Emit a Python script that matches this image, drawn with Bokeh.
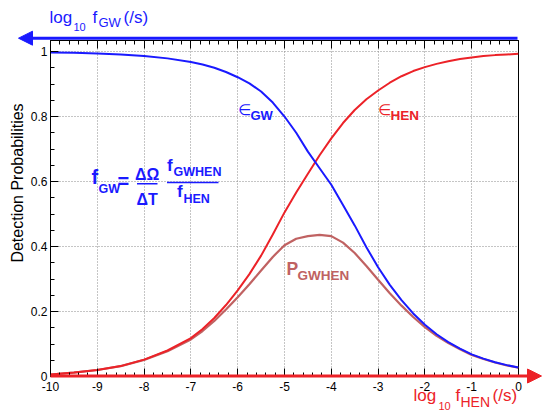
import numpy as np
from bokeh.plotting import figure
from bokeh.layouts import column
from bokeh.models import Label, Arrow, NormalHead, LinearAxis, Range1d, FixedTicker, Grid
from bokeh.embed import file_html
from bokeh.resources import INLINE

# ---- data ----
log_f = [-10, -9.5, -9, -8.5, -8, -7.5, -7, -6.75, -6.5, -6.25, -6, -5.75, -5.5,
         -5.25, -5, -4.75, -4.5, -4.25, -4, -3.75, -3.5, -3.25, -3, -2.75, -2.5,
         -2.25, -2, -1.75, -1.5, -1.25, -1, -0.75, -0.5, -0.25, 0]
eps_gw = [0.997, 0.996, 0.994, 0.991, 0.986, 0.979, 0.968, 0.960, 0.950, 0.937,
          0.921, 0.902, 0.877, 0.843, 0.800, 0.750, 0.692, 0.641, 0.590, 0.528,
          0.465, 0.398, 0.336, 0.282, 0.235, 0.194, 0.159, 0.130, 0.106, 0.086,
          0.068, 0.055, 0.044, 0.035, 0.028]
eps_hen = [0.006, 0.012, 0.020, 0.032, 0.052, 0.080, 0.118, 0.146, 0.180, 0.220,
           0.265, 0.315, 0.372, 0.437, 0.505, 0.566, 0.624, 0.681, 0.733, 0.780,
           0.820, 0.853, 0.880, 0.904, 0.924, 0.940, 0.952, 0.962, 0.970, 0.977,
           0.982, 0.986, 0.989, 0.991, 0.993]
p_gwhen = [0.006, 0.012, 0.020, 0.032, 0.051, 0.078, 0.114, 0.140, 0.171, 0.206,
           0.244, 0.284, 0.326, 0.368, 0.404, 0.424, 0.432, 0.436, 0.432, 0.412,
           0.380, 0.340, 0.298, 0.256, 0.218, 0.183, 0.152, 0.125, 0.103, 0.084,
           0.066, 0.054, 0.043, 0.034, 0.027]
x_ticks = [-10, -9, -8, -7, -6, -5, -4, -3, -2, -1, 0]
x_tick_labels = ["-10", "-9", "-8", "-7", "-6", "-5", "-4", "-3", "-2", "-1", "0"]
y_ticks = [0, 0.2, 0.4, 0.6, 0.8, 1]
y_tick_labels = ["0", "0.2", "0.4", "0.6", "0.8", "1"]

BLUE = "#1a1aff"
RED = "#ec2228"
PCOL = "#c06262"
FONT = "Liberation Sans"

W, H = 543, 415
p = figure(width=W, height=H, output_backend="svg", toolbar_location=None,
           x_range=Range1d(-10, 0), y_range=Range1d(0, 1.034),
           min_border_left=50, min_border_right=25, min_border_top=40,
           min_border_bottom=39, x_axis_type=None, y_axis_type=None,
           frame_align=False)
p.outline_line_color = "black"
p.outline_line_width = 1
p.background_fill_color = "white"
p.border_fill_color = "white"

xt = FixedTicker(ticks=x_ticks, minor_ticks=list(np.round(np.arange(-10, 0.001, 0.2), 3)))
yt = FixedTicker(ticks=y_ticks, minor_ticks=list(np.round(np.arange(0, 1.03, 0.05), 3)))

def style_axis(ax):
    ax.major_tick_in = 8
    ax.major_tick_out = 0
    ax.minor_tick_in = 4
    ax.minor_tick_out = 0
    ax.major_tick_line_color = "black"
    ax.minor_tick_line_color = "black"
    ax.axis_line_color = "black"
    ax.major_label_text_font = FONT
    ax.major_label_text_font_size = "12px"
    ax.major_label_text_color = "black"

xb = LinearAxis(ticker=xt)
style_axis(xb)
xb.major_label_overrides = {t: l for t, l in zip(x_ticks, x_tick_labels)}
xb.major_label_standoff = 5
p.add_layout(xb, "below")

xa = LinearAxis(ticker=xt)
style_axis(xa)
xa.major_label_text_alpha = 0
xa.major_label_text_font_size = "1px"
xa.major_label_standoff = 0
p.add_layout(xa, "above")

yl = LinearAxis(ticker=yt)
style_axis(yl)
yl.major_label_overrides = {t: l for t, l in zip(y_ticks, y_tick_labels)}
yl.major_label_standoff = 3
p.add_layout(yl, "left")

p.add_layout(Grid(dimension=0, ticker=xt, grid_line_color="#8a8a8a",
                  grid_line_dash="1 2", grid_line_width=1))
p.add_layout(Grid(dimension=1, ticker=yt, grid_line_color="#8a8a8a",
                  grid_line_dash="1 2", grid_line_width=1))

# curves
p.line(log_f, p_gwhen, line_color=PCOL, line_width=2.2)
p.line(log_f, eps_hen, line_color=RED, line_width=2)
p.line(log_f, eps_gw, line_color=BLUE, line_width=2)

# ---- transparent overlay canvas (pixel coordinates) for titles & annotations ----
q = figure(width=W, height=H, output_backend="svg", toolbar_location=None,
           x_range=Range1d(0, W), y_range=Range1d(H, 0),
           min_border=0, x_axis_type=None, y_axis_type=None,
           margin=(-H, 0, 0, 0), frame_align=False)
q.xgrid.visible = False
q.ygrid.visible = False
q.outline_line_color = None
q.background_fill_color = None
q.border_fill_color = None
q.background_fill_alpha = 0
q.border_fill_alpha = 0

K = 0.41  # baseline correction for Label rendering

def lab(text, x, y, size, color, bold=False, font=FONT, align="left", angle=0):
    if angle == 0:
        y = y - K * size
    else:
        x = x - K * size
    q.add_layout(Label(x=x, y=y, text=text, text_font=font,
                       text_font_size=f"{size}px", text_color=color,
                       text_font_style="bold" if bold else "normal",
                       text_align=align, text_baseline="alphabetic", angle=angle))

def bar(x0, x1, y, color, w=1.5):
    q.add_layout(Arrow(x_start=x0, y_start=y, x_end=x1, y_end=y, end=None,
                       line_color=color, line_width=w))

# axis arrows
q.add_layout(Arrow(x_start=517, y_start=37.7, x_end=18, y_end=37.7,
                   line_color=BLUE, line_width=3,
                   end=NormalHead(size=14, fill_color=BLUE, line_color=BLUE)))
q.add_layout(Arrow(x_start=50, y_start=375.5, x_end=541, y_end=375.5,
                   line_color=RED, line_width=3,
                   end=NormalHead(size=14, fill_color=RED, line_color=RED)))

# axis titles
lab("log", 49, 24, 17, BLUE)
lab("10", 73, 31.5, 11, BLUE)
lab("f", 92, 24, 17, BLUE)
lab("GW", 98, 27, 13, BLUE)
lab("(/s)", 123, 24, 17, BLUE)

lab("log", 413, 401.5, 17, RED)
lab("10", 438, 410.5, 11, RED)
lab("f", 455, 401.5, 17, RED)
lab("HEN", 460, 407, 14, RED)
lab("(/s)", 492, 401.5, 17, RED)

lab("Detection Probabilities", 23.5, 182.5, 16, "black", align="center",
    angle=np.pi / 2)

# formula
lab("f", 91, 185, 20, BLUE, bold=True)
lab("GW", 98, 194, 12.5, BLUE, bold=True)
lab("=", 117, 188.5, 20, BLUE, bold=True)
lab("ΔΩ", 146.7, 180.5, 16, BLUE, bold=True, align="center")
lab("ΔT", 146.7, 205.5, 16, BLUE, bold=True, align="center")
lab("f", 166.5, 172, 17, BLUE, bold=True)
lab("GWHEN", 173, 177, 12.5, BLUE, bold=True)
lab("f", 176.5, 197.5, 17, BLUE, bold=True)
lab("HEN", 183, 203.5, 12.5, BLUE, bold=True)
bar(136.5, 157, 183.3, BLUE)
bar(166.5, 218, 182, BLUE)

# curve labels
lab("∈", 237.5, 115.5, 15, BLUE, font="DejaVu Sans")
lab("GW", 250, 120.7, 13, BLUE, bold=True)
lab("∈", 377.5, 115.5, 15, RED, font="DejaVu Sans")
lab("HEN", 390, 120.7, 13.5, RED, bold=True)
lab("P", 286, 276, 17.5, PCOL, bold=True)
lab("GWHEN", 297, 280.7, 13.5, PCOL, bold=True)

layout = column(p, q, spacing=0)
open("out.html", "w").write(file_html(layout, INLINE))
